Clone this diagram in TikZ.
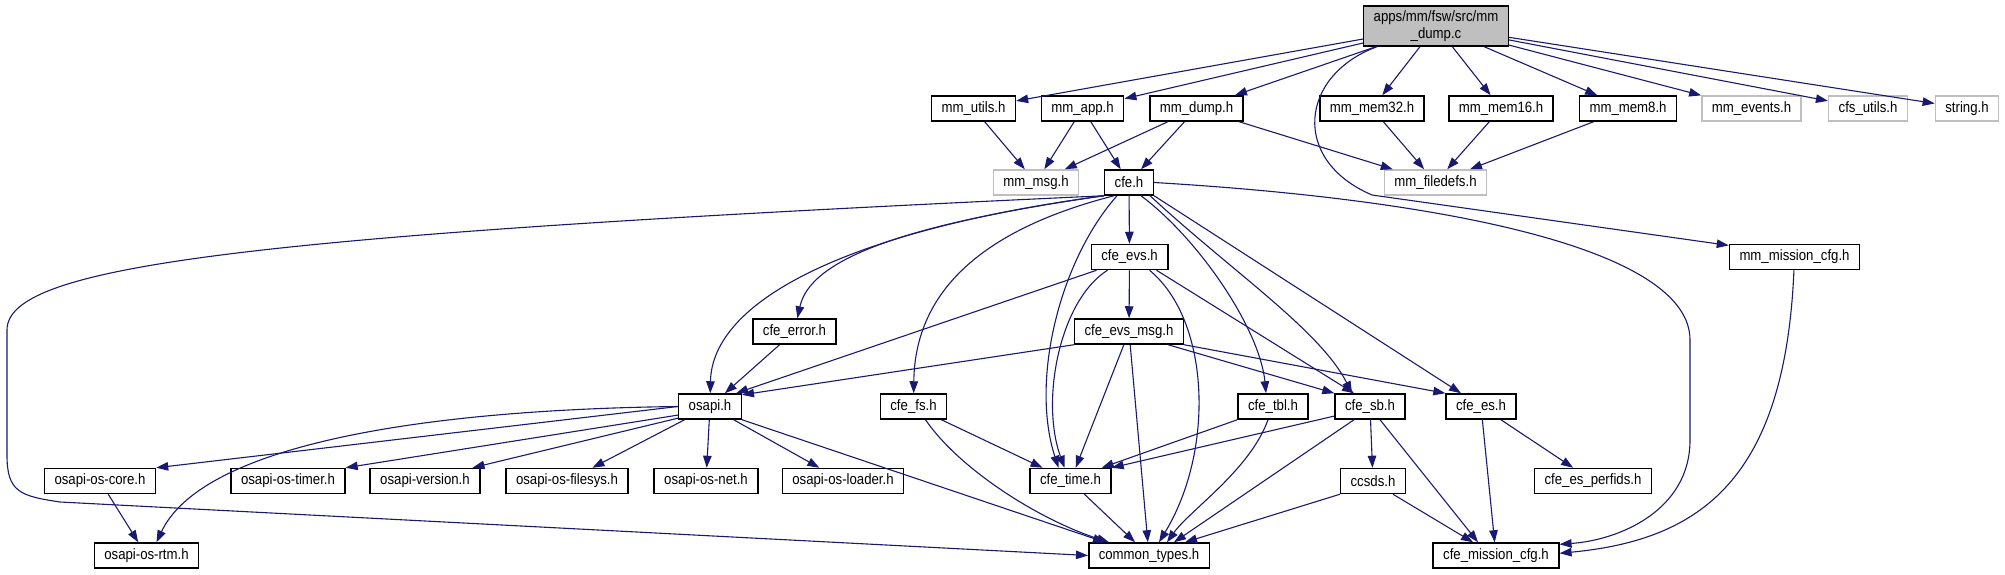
\documentclass[tikz,border=0pt]{standalone}
\usepackage{fontspec}
\setmainfont{Liberation Sans}[FakeStretch=0.88]
\usetikzlibrary{arrows.meta}
\definecolor{edgeblue}{HTML}{191970}
\definecolor{lightgray}{HTML}{BFBFBF}
\begin{document}
\begin{tikzpicture}[x=1pt,y=-1pt,
  filenode/.style={draw=black,rectangle,fill=white,line width=1.5pt,minimum height=25pt,inner xsep=10pt,inner ysep=0pt,font=\fontsize{15}{16.5}\selectfont},
  extnode/.style={filenode,draw=lightgray},
  rootnode/.style={filenode,fill=lightgray,align=center,minimum height=40pt,inner xsep=10pt},
  dep/.style={draw=edgeblue,line width=1.1pt,-{Triangle[length=12pt,width=8.5pt]}}]
\useasboundingbox (0,0) rectangle (2005,575);
\node[rootnode] (root) at (1436,26) {apps/mm/fsw/src/mm\\\_dump.c};
\node[filenode] (mmutils) at (973.5,108.5) {mm\_utils.h};
\node[filenode] (mmapp) at (1082.5,108.5) {mm\_app.h};
\node[filenode] (mmdump) at (1196.5,108.5) {mm\_dump.h};
\node[filenode] (mem32) at (1372,108.5) {mm\_mem32.h};
\node[filenode] (mem16) at (1501,108.5) {mm\_mem16.h};
\node[filenode] (mem8) at (1628,108.5) {mm\_mem8.h};
\node[extnode] (mmevents) at (1751.5,108.5) {mm\_events.h};
\node[extnode] (cfsutils) at (1868,108.5) {cfs\_utils.h};
\node[extnode] (stringh) at (1967,108.5) {string.h};
\node[extnode] (mmmsg) at (1036,182.5) {mm\_msg.h};
\node[filenode] (cfe) at (1129,182.5) {cfe.h};
\node[extnode] (filedefs) at (1435.5,182.5) {mm\_filedefs.h};
\node[filenode] (cfeevs) at (1129.5,257) {cfe\_evs.h};
\node[filenode] (mmmission) at (1794.5,257) {mm\_mission\_cfg.h};
\node[filenode] (cfeerror) at (794.5,331.5) {cfe\_error.h};
\node[filenode] (evsmsg) at (1129,331.5) {cfe\_evs\_msg.h};
\node[filenode] (osapi) at (710,406.5) {osapi.h};
\node[filenode] (cfefs) at (913.5,406.5) {cfe\_fs.h};
\node[filenode] (cfetbl) at (1273,406.5) {cfe\_tbl.h};
\node[filenode] (cfesb) at (1370,406.5) {cfe\_sb.h};
\node[filenode] (cfees) at (1481,406.5) {cfe\_es.h};
\node[filenode] (oscore) at (100,481) {osapi-os-core.h};
\node[filenode] (ostimer) at (288,481) {osapi-os-timer.h};
\node[filenode] (osversion) at (425,481) {osapi-version.h};
\node[filenode] (osfilesys) at (567,481) {osapi-os-filesys.h};
\node[filenode] (osnet) at (706,481) {osapi-os-net.h};
\node[filenode] (osloader) at (843,481) {osapi-os-loader.h};
\node[filenode] (cfetime) at (1070.5,481) {cfe\_time.h};
\node[filenode] (ccsds) at (1373,481) {ccsds.h};
\node[filenode] (perfids) at (1593,481) {cfe\_es\_perfids.h};
\node[filenode] (osrtm) at (146.5,555.5) {osapi-os-rtm.h};
\node[filenode] (common) at (1149,555.5) {common\_types.h};
\node[filenode] (cfemission) at (1496,555.5) {cfe\_mission\_cfg.h};

\draw[dep] (root) -- (mmutils);
\draw[dep] (root) -- (mmapp);
\draw[dep] (root) -- (mmdump);
\draw[dep] (root) -- (mem32);
\draw[dep] (root) -- (mem16);
\draw[dep] (root) -- (mem8);
\draw[dep] (root) -- (mmevents);
\draw[dep] (root) -- (cfsutils);
\draw[dep] (root) -- (stringh);
\draw[dep] ([xshift=14pt]root.south west) .. controls (1300,75) and (1290,160) .. (1372,195) -- (mmmission.170);
\draw[dep] (mmutils) -- (mmmsg);
\draw[dep] (mmapp) -- (mmmsg);
\draw[dep] (mmapp) -- (cfe);
\draw[dep] (mmdump) -- (mmmsg);
\draw[dep] (mmdump) -- (cfe);
\draw[dep] (mmdump) -- (filedefs);
\draw[dep] (mem32) -- (filedefs);
\draw[dep] (mem16) -- (filedefs);
\draw[dep] (mem8) -- (filedefs);
\draw[dep] (mmmission) .. controls (1785,480) and (1700,540) .. (cfemission.2);

\draw[dep] (cfe.south west) .. controls (250,235) and (7,265) .. (7,330) -- (7,455) .. controls (7,492) and (20,496) .. (60,502) -- (common.west);
\draw[dep] (cfe.east) .. controls (1450,200) and (1690,250) .. (1690,340) -- (1690,440) .. controls (1690,510) and (1620,540) .. (cfemission.10);
\draw[dep] (cfe.south west) .. controls (850,230) and (712,300) .. (osapi);
\draw[dep] (cfe.south west) .. controls (900,225) and (810,260) .. (cfeerror);
\draw[dep] ([xshift=-15pt]cfe.south) .. controls (1000,225) and (915,280) .. (cfefs);
\draw[dep] ([xshift=-12pt]cfe.south) .. controls (1060,260) and (1030,380) .. ([xshift=-12pt]cfetime.north);
\draw[dep] (cfe) -- (cfeevs);
\draw[dep] ([xshift=12pt]cfe.south) .. controls (1200,240) and (1260,330) .. ([xshift=-7pt]cfetbl.north);
\draw[dep] ([xshift=-4pt]cfe.south east) .. controls (1230,270) and (1320,330) .. ([xshift=-18pt]cfesb.north);
\draw[dep] (cfe.south east) -- ([xshift=-20pt]cfees.north);

\draw[dep] (cfeevs) -- (evsmsg);
\draw[dep] ([xshift=6pt]cfeevs.south west) -- ([xshift=-6pt]osapi.north east);
\draw[dep] ([xshift=-22pt]cfeevs.south) .. controls (1060,300) and (1040,400) .. ([xshift=-6pt]cfetime.north);
\draw[dep] ([xshift=20pt]cfeevs.south) .. controls (1210,320) and (1215,450) .. ([xshift=10pt]common.north);
\draw[dep] ([xshift=-12pt]cfeevs.south east) -- ([xshift=-16pt]cfesb.north);
\draw[dep] (cfeerror) -- (osapi);
\draw[dep] (evsmsg.south west) -- (osapi.20);
\draw[dep] (evsmsg) -- (cfetime);
\draw[dep] (evsmsg) -- (common);
\draw[dep] ([xshift=-16pt]evsmsg.south east) -- (cfesb.north west);
\draw[dep] (evsmsg.south east) -- (cfees.north west);

\draw[dep] (osapi.west) -- (oscore.north east);
\draw[dep] (osapi.195) -- (ostimer.north east);
\draw[dep] (osapi.200) -- ([xshift=-8pt]osversion.north east);
\draw[dep] (osapi) -- (osfilesys);
\draw[dep] (osapi) -- (osnet);
\draw[dep] (osapi) -- (osloader);
\draw[dep] (osapi.west) .. controls (400,410) and (200,450) .. ([xshift=10pt]osrtm.north);
\draw[dep] (osapi.south east) -- ([xshift=-44pt]common.north);
\draw[dep] (oscore) -- (osrtm);
\draw[dep] (cfefs) -- (cfetime);
\draw[dep] ([xshift=12pt]cfefs.south) .. controls (960,470) and (1040,520) .. ([xshift=-40pt]common.north);
\draw[dep] (cfetbl.south west) -- ([xshift=-10pt]cfetime.north east);
\draw[dep] ([xshift=-5pt]cfetbl.south) .. controls (1250,470) and (1190,510) .. ([xshift=18pt]common.north);
\draw[dep] (cfesb.195) -- (cfetime.north east);
\draw[dep] ([xshift=-16pt]cfesb.south) -- ([xshift=25pt]common.north);
\draw[dep] (cfesb) -- (ccsds);
\draw[dep] ([xshift=10pt]cfesb.south) -- ([xshift=-18pt]cfemission.north);
\draw[dep] (ccsds.south west) -- ([xshift=36pt]common.north);
\draw[dep] ([xshift=20pt]ccsds.south) -- ([xshift=-23pt]cfemission.north);
\draw[dep] (cfees) -- (cfemission);
\draw[dep] (cfees) -- (perfids);
\draw[dep] (cfetime) -- (common);
\end{tikzpicture}
\end{document}
